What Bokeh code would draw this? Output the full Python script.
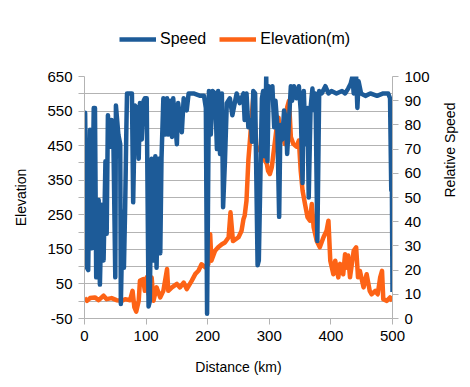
import math
from bokeh.plotting import figure
from bokeh.layouts import column
from bokeh.models import (Range1d, LinearAxis, FixedTicker, Legend, LegendItem,
                          ColumnDataSource)
from bokeh.embed import file_html
from bokeh.resources import INLINE

# Speed (relative, right axis) — distance in km
speed_km = [0, 1, 4, 6, 9, 12, 15, 17, 19, 23, 25, 28, 31, 34, 36, 38, 42, 44, 47, 50,
            51, 55, 58, 59, 62, 64, 66, 68, 69, 74, 77, 79, 82, 85, 88, 90, 93, 96, 98, 101,
            104, 106, 109, 112, 115, 117, 120, 123, 125, 128, 131, 134, 136, 139, 142, 144,
            150, 152, 158, 161, 166, 169, 177, 188, 194, 197, 199, 202, 205, 208, 212, 215,
            217, 220, 223, 225, 228, 231, 236, 240, 247, 252, 258, 260, 263, 266, 270, 272,
            274, 277, 278, 281, 283, 286, 288, 290, 293, 295, 297, 299, 302, 305, 308, 310,
            313, 316, 318, 321, 324, 327, 329, 332, 335, 337, 340, 344, 348, 351, 354, 356,
            359, 362, 364, 367, 370, 373, 375, 378, 381, 385, 391, 396, 401, 409, 418, 423,
            428, 432, 435, 437, 439, 441, 443, 445, 449, 456, 464, 475, 485, 493, 496, 498,
            499, 500]
speed_rel = [68, 85, 21, 20, 78, 29, 87, 87, 17, 49, 14, 47, 24, 65, 35, 84, 71, 82, 72, 17,
             88, 76, 72, 6, 44, 21, 46, 79, 93, 93, 93, 48, 88, 87, 66, 89, 74, 90, 91, 91,
             5, 7, 66, 24, 67, 21, 66, 27, 66, 91, 76, 91, 76, 90, 75, 91, 72, 89, 77, 91,
             86, 93, 93, 92, 92, 87, 2, 94, 76, 94, 93, 70, 94, 68, 93, 46, 65, 89, 91, 84,
             93, 89, 93, 82, 93, 79, 82, 73, 94, 93, 75, 22, 24, 65, 91, 94, 67, 100, 65, 96,
             93, 96, 79, 90, 80, 42, 80, 74, 86, 82, 68, 82, 96, 90, 96, 91, 96, 86, 56, 94,
             72, 87, 50, 87, 95, 86, 93, 32, 94, 93, 96, 93, 94, 93, 94, 93, 95, 97, 100, 93,
             98, 100, 87, 98, 93, 92, 93, 92, 93, 93, 91, 53, 54, 11]

# Elevation (m, left axis)
elev_km = [0, 4, 9, 17, 23, 31, 36, 44, 52, 61, 66, 74, 78, 81, 84, 88, 90, 95, 98, 101,
           104, 109, 112, 117, 123, 128, 134, 136, 142, 150, 155, 161, 166, 174, 180, 185,
           190, 196, 201, 204, 206, 212, 217, 223, 228, 234, 237, 241, 250, 255, 258, 260,
           263, 266, 269, 271, 274, 279, 290, 293, 296, 298, 301, 304, 306, 312, 315, 317,
           320, 325, 329, 332, 335, 339, 344, 348, 351, 354, 358, 362, 366, 369, 372, 377,
           382, 388, 393, 396, 399, 404, 407, 412, 415, 420, 423, 426, 428, 431, 437, 441,
           444, 447, 453, 458, 463, 466, 472, 476, 480, 483, 485, 491, 496, 500]
elev_m = [9, 1, 9, 11, 3, 16, 6, 9, 3, 1, 6, 3, 30, -18, -30, 1, 59, 64, 30, 69,
          21, 69, 1, 40, 11, 30, 93, 30, 40, 50, 40, 54, 35, 59, 79, 88,
          107, 98, 107, 194, 117, 146, 156, 165, 170, 185, 257, 174, 185, 204, 237, 247,
          291, 407, 475, 524, 590, 447, 426, 407, 397, 377, 368, 387, 416, 503, 531, 482,
          503, 455, 561, 580, 475, 455, 447, 465, 377, 320, 281, 243, 233, 281, 214, 174,
          156, 185, 204, 233, 117, 78, 117, 69, 108, 78, 136, 97, 132, 69, 146, 156,
          69, 88, 40, 78, 30, 20, 30, 20, 69, 88, 6, 1, 11, 1]

left_ticks = [-50, 50, 150, 250, 350, 450, 550, 650]
left_minor = [0, 100, 200, 300, 400, 500, 600]
grid_ticks = list(range(-50, 651, 50))
right_ticks = list(range(0, 101, 10))
x_ticks = [0, 100, 200, 300, 400, 500]

BLUE = "#1d5b98"
ORANGE = "#fd6316"
GRID = "#b3b3b3"
FONT = "Liberation Sans"
LW = 4.5

# ---- main chart ----
p = figure(width=468, height=335, output_backend="svg", toolbar_location=None,
           x_range=Range1d(0, 500), y_range=Range1d(-50, 650),
           min_border_left=84, min_border_right=76, min_border_top=26, min_border_bottom=67)
p.extra_y_ranges = {"speed": Range1d(0, 100)}
p.outline_line_color = None
p.background_fill_color = "white"
p.border_fill_color = "white"

src_e = ColumnDataSource(dict(x=elev_km, y=elev_m))
src_s = ColumnDataSource(dict(x=speed_km, y=speed_rel))
p.line("x", "y", source=src_e, line_color=ORANGE, line_width=LW, line_join="round")
p.line("x", "y", source=src_s, line_color=BLUE, line_width=LW, line_join="round",
       y_range_name="speed")

p.xgrid.visible = False
p.ygrid.ticker = FixedTicker(ticks=grid_ticks)
p.ygrid.grid_line_color = GRID
p.ygrid.grid_line_width = 1

def style_axis(ax):
    ax.axis_line_color = GRID
    ax.major_tick_line_color = GRID
    ax.minor_tick_line_color = GRID
    ax.major_tick_in = 0
    ax.major_tick_out = 6
    ax.minor_tick_in = 0
    ax.minor_tick_out = 6
    ax.major_label_text_font = FONT
    ax.major_label_text_font_size = "15px"
    ax.major_label_text_color = "black"
    ax.axis_label_text_font = FONT
    ax.axis_label_text_font_size = "14px"
    ax.axis_label_text_font_style = "normal"
    ax.axis_label_text_color = "black"
    ax.major_label_standoff = 6

xa = p.xaxis[0]
xa.ticker = FixedTicker(ticks=x_ticks)
xa.axis_label = "Distance (km)"
style_axis(xa)
xa.minor_tick_out = 0
xa.axis_label_standoff = 15

ya = p.yaxis[0]
ya.ticker = FixedTicker(ticks=left_ticks, minor_ticks=left_minor)
ya.axis_label = "Elevation"
style_axis(ya)
ya.axis_label_standoff = 15
ya.major_label_overrides = {t: str(t) for t in left_ticks}

ra = LinearAxis(y_range_name="speed", ticker=FixedTicker(ticks=right_ticks),
                axis_label="Relative Speed")
style_axis(ra)
ra.minor_tick_out = 0
ra.axis_label_standoff = 17
if "axis_label_orientation" in ra.properties():
    ra.axis_label_orientation = math.pi / 2
p.add_layout(ra, "right")

# ---- legend strip above the chart (same series, drawn out of view) ----
lg = figure(width=468, height=50, output_backend="svg", toolbar_location=None,
            x_range=Range1d(0, 500), y_range=Range1d(5000, 5001),
            min_border_left=0, min_border_right=0, min_border_top=0, min_border_bottom=0)
lg.axis.visible = False
lg.grid.visible = False
lg.outline_line_color = None
ls = lg.line("x", "y", source=src_s, line_color=BLUE, line_width=LW)
le = lg.line("x", "y", source=src_e, line_color=ORANGE, line_width=LW)
legend = Legend(items=[LegendItem(label="Speed", renderers=[ls]),
                       LegendItem(label="Elevation(m)", renderers=[le])],
                orientation="horizontal", location=(35, 1),
                glyph_width=37, glyph_height=20, label_height=20,
                label_standoff=4, spacing=13, padding=0, margin=0,
                border_line_color=None, background_fill_alpha=0,
                label_text_font=FONT, label_text_font_size="16px",
                label_text_color="black")
lg.add_layout(legend, "center")

layout = column(lg, p, spacing=0)
open("out.html", "w").write(file_html(layout, INLINE))
